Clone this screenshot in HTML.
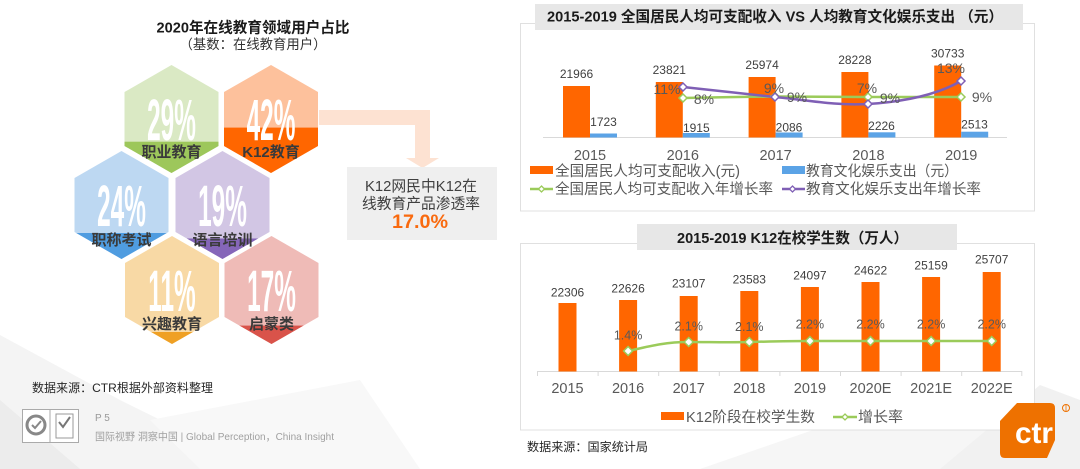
<!DOCTYPE html>
<html><head><meta charset="utf-8"><style>
html,body{margin:0;padding:0;background:#fff;}
svg{display:block;}
text{font-family:"Liberation Sans","Noto Sans CJK SC",sans-serif;}
</style></head><body>
<svg width="1080" height="469" viewBox="0 0 1080 469" xmlns="http://www.w3.org/2000/svg">
<defs>
<clipPath id="c1"><polygon points="171.5,65 218.5,92 218.5,146 171.5,173 124.5,146 124.5,92"/></clipPath>
<clipPath id="c2"><polygon points="271,65 318,92 318,146 271,173 224,146 224,92"/></clipPath>
<clipPath id="c3"><polygon points="121.5,151 168.5,178 168.5,232 121.5,259 74.5,232 74.5,178"/></clipPath>
<clipPath id="c4"><polygon points="222.5,151 269.5,178 269.5,232 222.5,259 175.5,232 175.5,178"/></clipPath>
<clipPath id="c5"><polygon points="172,236 219,263 219,317 172,344 125,317 125,263"/></clipPath>
<clipPath id="c6"><polygon points="271.5,236 318.5,263 318.5,317 271.5,344 224.5,317 224.5,263"/></clipPath>
</defs>
<rect width="1080" height="469" fill="#fff"/>
<!-- faint background polygons -->
<polygon points="0,335 120,400 260,469 0,469" fill="#f4f4f4"/>
<polygon points="0,400 80,469 0,469" fill="#ececec"/>
<polygon points="150,420 360,380 420,469 200,469" fill="#f8f8f8"/>
<polygon points="700,469 900,400 1080,430 1080,469" fill="#f6f6f6"/>
<polygon points="940,469 1040,385 1080,400 1080,469" fill="#f1f1f1"/>

<!-- left title -->
<text x="253" y="32.5" font-size="15" font-weight="bold" fill="#1a1a1a" text-anchor="middle" textLength="193" lengthAdjust="spacingAndGlyphs">2020年在线教育领域用户占比</text>
<text x="253" y="49" font-size="13.5" fill="#333" text-anchor="middle" textLength="147" lengthAdjust="spacingAndGlyphs">（基数：在线教育用户）</text>

<!-- arrow -->
<rect x="319" y="110" width="111" height="15" fill="#fde2d2"/>
<rect x="415" y="110" width="15" height="49" fill="#fde2d2"/>
<polygon points="406,158 439,158 422.5,168" fill="#fde2d2"/>

<!-- hexagons -->
<g clip-path="url(#c1)"><rect x="120" y="60" width="110" height="120" fill="#dae9c4"/><rect x="120" y="141.7" width="110" height="40" fill="#9dc75b"/></g>
<g clip-path="url(#c2)"><rect x="220" y="60" width="110" height="120" fill="#fdc19c"/><rect x="220" y="127.6" width="110" height="50" fill="#ff6600"/></g>
<g clip-path="url(#c3)"><rect x="70" y="145" width="110" height="120" fill="#bdd8f2"/><rect x="70" y="233" width="110" height="30" fill="#4f9ce0"/></g>
<g clip-path="url(#c4)"><rect x="170" y="145" width="110" height="120" fill="#d2c6e4"/><rect x="170" y="238.5" width="110" height="30" fill="#8566b9"/></g>
<g clip-path="url(#c5)"><rect x="120" y="230" width="110" height="120" fill="#f8d9a5"/><rect x="120" y="332" width="110" height="20" fill="#efa024"/></g>
<g clip-path="url(#c6)"><rect x="220" y="230" width="110" height="120" fill="#efbbb7"/><rect x="220" y="325.6" width="110" height="25" fill="#d9534a"/></g>

<g font-weight="bold" fill="#fff" font-size="58" text-anchor="middle">
<text transform="translate(171.5,140) scale(0.42,1)">29%</text>
<text transform="translate(271,140) scale(0.42,1)">42%</text>
<text transform="translate(121.5,226) scale(0.42,1)">24%</text>
<text transform="translate(222.5,226) scale(0.42,1)">19%</text>
<text transform="translate(172,311) scale(0.42,1)">11%</text>
<text transform="translate(271.5,311) scale(0.42,1)">17%</text>
</g>
<g font-weight="bold" fill="#3a3a3a" font-size="15" text-anchor="middle">
<text x="171.5" y="157">职业教育</text>
<text x="271" y="157">K12教育</text>
<text x="121.5" y="245">职称考试</text>
<text x="222.5" y="245">语言培训</text>
<text x="172" y="329">兴趣教育</text>
<text x="271.5" y="329">启蒙类</text>
</g>

<!-- gray box -->
<rect x="347" y="167" width="150" height="73" fill="#efefef"/>
<text x="421" y="191" font-size="15" fill="#404040" text-anchor="middle" textLength="112" lengthAdjust="spacingAndGlyphs">K12网民中K12在</text>
<text x="421" y="208.5" font-size="15" fill="#404040" text-anchor="middle" textLength="118" lengthAdjust="spacingAndGlyphs">线教育产品渗透率</text>
<text x="420" y="228" font-size="19" font-weight="bold" fill="#f96a0f" text-anchor="middle" textLength="56" lengthAdjust="spacingAndGlyphs">17.0%</text>

<!-- left footer -->
<text x="32" y="392" font-size="12" fill="#262626" textLength="181" lengthAdjust="spacingAndGlyphs">数据来源：CTR根据外部资料整理</text>
<rect x="22.5" y="409.5" width="56" height="33" fill="#fff" stroke="#aaa" stroke-width="1"/>
<circle cx="36" cy="425" r="9" fill="none" stroke="#888" stroke-width="3"/>
<path d="M32,425 l3,3 l6,-7" fill="none" stroke="#888" stroke-width="2"/>
<line x1="50" y1="410" x2="50" y2="442" stroke="#aaa"/>
<rect x="56" y="414" width="17" height="24" fill="none" stroke="#999"/>
<path d="M59,422 l4,5 l7,-10" fill="none" stroke="#777" stroke-width="2"/>
<text x="95" y="421" font-size="10" fill="#999">P 5</text>
<text x="95" y="440" font-size="10.5" fill="#a0a0a0" textLength="239" lengthAdjust="spacingAndGlyphs">国际视野 洞察中国 | Global Perception，China Insight</text>

<!-- ===== Top-right chart ===== -->
<rect x="520.5" y="23.5" width="514" height="187.5" fill="#fff" stroke="#e0e0e0" stroke-width="1"/>
<rect x="535" y="4" width="488" height="26" fill="#e7e7e7"/>
<text x="547" y="21.5" font-size="14.6" font-weight="bold" fill="#1a1a1a" textLength="456" lengthAdjust="spacingAndGlyphs">2015-2019 全国居民人均可支配收入 VS 人均教育文化娱乐支出 （元）</text>
<line x1="543" y1="137.5" x2="1007" y2="137.5" stroke="#d9d9d9" stroke-width="1"/>
<g fill="#ff6600">
<rect x="563" y="86" width="27" height="51.5"/>
<rect x="655.8" y="82" width="27" height="55.5"/>
<rect x="748.6" y="77" width="27" height="60.5"/>
<rect x="841.4" y="72" width="27" height="65.5"/>
<rect x="934.2" y="65.5" width="27" height="72"/>
</g>
<g fill="#5ba3e6">
<rect x="590" y="133.5" width="27" height="4"/>
<rect x="682.8" y="133" width="27" height="4.5"/>
<rect x="775.6" y="132.5" width="27" height="5"/>
<rect x="868.4" y="132.3" width="27" height="5.2"/>
<rect x="961.2" y="131.7" width="27" height="5.8"/>
</g>
<g font-size="12" fill="#404040" text-anchor="middle">
<text x="576.5" y="78">21966</text>
<text x="669.3" y="74">23821</text>
<text x="762.1" y="69">25974</text>
<text x="854.9" y="64">28228</text>
<text x="947.7" y="57.5">30733</text>
<text x="603.5" y="126">1723</text>
<text x="696.3" y="132">1915</text>
<text x="789" y="131.5">2086</text>
<text x="881.5" y="130">2226</text>
<text x="974.5" y="128.5">2513</text>
</g>
<!-- lines -->
<path d="M683,98 C713,97.5 745,96.8 775,96.5 C806,96.5 837,97 868,97 C899,97 930,97 961,97" fill="none" stroke="#9bcb5a" stroke-width="2.5"/>
<path d="M683,87 C713,90 745,94 775,97 C806,100 837,106 868,104 C899,102 935,96 961,81" fill="none" stroke="#7f5fb5" stroke-width="2.5"/>
<g fill="#fff" stroke="#9bcb5a" stroke-width="1.5">
<polygon points="683,94 687,98 683,102 679,98"/>
<polygon points="775,92.5 779,96.5 775,100.5 771,96.5"/>
<polygon points="868,93 872,97 868,101 864,97"/>
<polygon points="961,93 965,97 961,101 957,97"/>
</g>
<g fill="#fff" stroke="#7f5fb5" stroke-width="1.5">
<polygon points="683,83 687,87 683,91 679,87"/>
<polygon points="775,93 779,97 775,101 771,97"/>
<polygon points="868,100 872,104 868,108 864,104"/>
<polygon points="961,77 965,81 961,85 957,81"/>
</g>
<g font-size="14" fill="#595959" text-anchor="middle">
<text x="704" y="104">8%</text>
<text x="797" y="102">9%</text>
<text x="890" y="103">9%</text>
<text x="982" y="102">9%</text>
<text x="667" y="94">11%</text>
<text x="774" y="93">9%</text>
<text x="867" y="93">7%</text>
<text x="951" y="73">13%</text>
</g>
<g font-size="14.5" fill="#595959" text-anchor="middle">
<text x="590" y="160">2015</text>
<text x="682.8" y="160">2016</text>
<text x="775.6" y="160">2017</text>
<text x="868.4" y="160">2018</text>
<text x="961.2" y="160">2019</text>
</g>
<!-- legend -->
<rect x="530" y="166" width="23" height="8" fill="#ff6600"/>
<text x="555" y="176" font-size="14.5" fill="#595959" textLength="185" lengthAdjust="spacingAndGlyphs">全国居民人均可支配收入(元)</text>
<rect x="782" y="166" width="23" height="8" fill="#5ba3e6"/>
<text x="806" y="176" font-size="14.5" fill="#595959" textLength="152" lengthAdjust="spacingAndGlyphs">教育文化娱乐支出（元）</text>
<line x1="530" y1="189" x2="553" y2="189" stroke="#9bcb5a" stroke-width="2.5"/>
<polygon points="541.5,186 544.5,189 541.5,192 538.5,189" fill="#fff" stroke="#9bcb5a" stroke-width="1.3"/>
<text x="555" y="194" font-size="14.5" fill="#595959" textLength="218" lengthAdjust="spacingAndGlyphs">全国居民人均可支配收入年增长率</text>
<line x1="782" y1="189" x2="805" y2="189" stroke="#7f5fb5" stroke-width="2.5"/>
<polygon points="792.5,186 795.5,189 792.5,192 789.5,189" fill="#fff" stroke="#7f5fb5" stroke-width="1.3"/>
<text x="806" y="194" font-size="14.5" fill="#595959" textLength="175" lengthAdjust="spacingAndGlyphs">教育文化娱乐支出年增长率</text>

<!-- ===== Bottom-right chart ===== -->
<rect x="520.5" y="243.5" width="514" height="186.5" fill="#fff" stroke="#e0e0e0" stroke-width="1"/>
<rect x="637" y="224" width="320" height="26" fill="#e7e7e7"/>
<text x="677" y="243" font-size="14.6" font-weight="bold" fill="#1a1a1a" textLength="231" lengthAdjust="spacingAndGlyphs">2015-2019 K12在校学生数（万人）</text>
<line x1="537" y1="371.5" x2="1022" y2="371.5" stroke="#d9d9d9" stroke-width="1"/>
<g stroke="#d9d9d9" stroke-width="1">
<line x1="537.5" y1="371" x2="537.5" y2="376"/>
<line x1="598.1" y1="371" x2="598.1" y2="376"/>
<line x1="658.7" y1="371" x2="658.7" y2="376"/>
<line x1="719.3" y1="371" x2="719.3" y2="376"/>
<line x1="779.9" y1="371" x2="779.9" y2="376"/>
<line x1="840.5" y1="371" x2="840.5" y2="376"/>
<line x1="901.1" y1="371" x2="901.1" y2="376"/>
<line x1="961.7" y1="371" x2="961.7" y2="376"/>
<line x1="1021.8" y1="371" x2="1021.8" y2="376"/>
</g>
<g fill="#ff6600">
<rect x="558.5" y="303" width="18" height="68.5"/>
<rect x="619.1" y="300" width="18" height="71.5"/>
<rect x="679.7" y="296" width="18" height="75.5"/>
<rect x="740.3" y="291" width="18" height="80.5"/>
<rect x="800.9" y="287" width="18" height="84.5"/>
<rect x="861.5" y="282" width="18" height="89.5"/>
<rect x="922.1" y="277" width="18" height="94.5"/>
<rect x="982.7" y="272" width="18" height="99.5"/>
</g>
<g font-size="12" fill="#404040" text-anchor="middle">
<text x="567.5" y="296.5">22306</text>
<text x="628.1" y="292.5">22626</text>
<text x="688.7" y="287.5">23107</text>
<text x="749.3" y="283.5">23583</text>
<text x="809.9" y="279.5">24097</text>
<text x="870.5" y="274.5">24622</text>
<text x="931.1" y="269.5">25159</text>
<text x="991.7" y="263.5">25707</text>
</g>
<path d="M628.1,351 C650,346 665,342 688.7,342 C710,342 730,342.5 749.3,342 C770,341.5 790,341 809.9,341 L991.7,341" fill="none" stroke="#9bcb5a" stroke-width="2.5"/>
<g fill="#fff" stroke="#9bcb5a" stroke-width="1.5">
<polygon points="628.1,346.5 632.6,351 628.1,355.5 623.6,351"/>
<polygon points="688.7,337.5 693.2,342 688.7,346.5 684.2,342"/>
<polygon points="749.3,337.5 753.8,342 749.3,346.5 744.8,342"/>
<polygon points="809.9,336.5 814.4,341 809.9,345.5 805.4,341"/>
<polygon points="870.5,336.5 875,341 870.5,345.5 866,341"/>
<polygon points="931.1,336.5 935.6,341 931.1,345.5 926.6,341"/>
<polygon points="991.7,336.5 996.2,341 991.7,345.5 987.2,341"/>
</g>
<g font-size="12.5" fill="#595959" text-anchor="middle">
<text x="628.1" y="339.5">1.4%</text>
<text x="688.7" y="330.5">2.1%</text>
<text x="749.3" y="331">2.1%</text>
<text x="809.9" y="328.5">2.2%</text>
<text x="870.5" y="328.5">2.2%</text>
<text x="931.1" y="328.5">2.2%</text>
<text x="991.7" y="328.5">2.2%</text>
</g>
<g font-size="14.5" fill="#595959" text-anchor="middle">
<text x="567.5" y="393">2015</text>
<text x="628.1" y="393">2016</text>
<text x="688.7" y="393">2017</text>
<text x="749.3" y="393">2018</text>
<text x="809.9" y="393">2019</text>
<text x="870.5" y="393">2020E</text>
<text x="931.1" y="393">2021E</text>
<text x="991.7" y="393">2022E</text>
</g>
<rect x="661" y="412" width="23" height="8" fill="#ff6600"/>
<text x="686" y="422" font-size="14.5" fill="#595959" textLength="129" lengthAdjust="spacingAndGlyphs">K12阶段在校学生数</text>
<line x1="833" y1="417" x2="857" y2="417" stroke="#9bcb5a" stroke-width="2.5"/>
<polygon points="845,414 848,417 845,420 842,417" fill="#fff" stroke="#9bcb5a" stroke-width="1.3"/>
<text x="858" y="422" font-size="14.5" fill="#595959" textLength="45" lengthAdjust="spacingAndGlyphs">增长率</text>
<text x="527" y="451" font-size="12" fill="#262626" textLength="121" lengthAdjust="spacingAndGlyphs">数据来源：国家统计局</text>

<!-- ctr logo -->
<path d="M1017,403 L1050,403 Q1055,403 1055,408 L1055,440 L1047,458 L1005,458 Q1000,458 1000,453 L1000,421 Z" fill="#ee7100"/>
<text x="1015" y="443" font-size="30" font-weight="bold" fill="#fff" textLength="38" lengthAdjust="spacingAndGlyphs">ctr</text>
<circle cx="1066" cy="408" r="3.5" fill="none" stroke="#ee7100" stroke-width="1"/>
<line x1="1066" y1="405" x2="1066" y2="411" stroke="#ee7100" stroke-width="0.8"/>
</svg>
</body></html>
